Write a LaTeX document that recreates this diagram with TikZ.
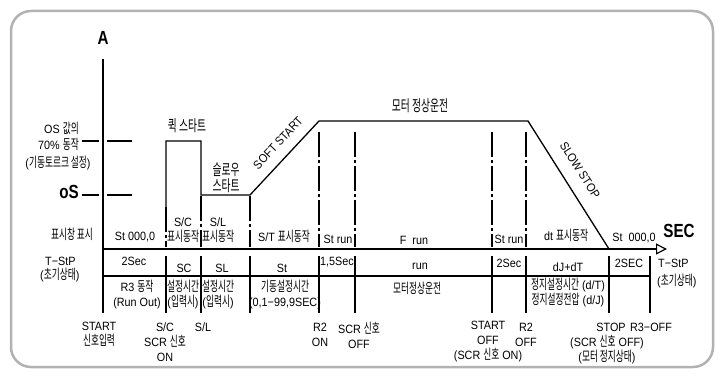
\documentclass[tikz,border=0pt]{standalone}
\usepackage{fontspec}
\setmainfont{Liberation Sans}[FakeStretch=0.9]
\newfontfamily\korfont{Noto Sans CJK KR}[FakeStretch=0.63, Scale=1.15]
\newfontfamily\bigfont{Liberation Sans}[FakeStretch=0.8]
\newcommand\kor[1]{{\korfont #1}}
\usetikzlibrary{arrows.meta}
\begin{document}
\begin{tikzpicture}[x=1pt,y=-1pt,
  txt/.style={inner sep=0pt, align=center, font=\fontsize{12}{15}\selectfont},
  head/.style={inner sep=0pt, align=center, font=\fontsize{13.5}{16}\selectfont},
  big/.style={inner sep=0pt, font=\bigfont\bfseries\fontsize{19}{20}\selectfont},
  ln/.style={line width=1.3pt, black},
  dd/.style={line width=1.3pt, dash pattern=on 25pt off 3pt on 3pt off 3pt},
  frame/.style={line width=2.5pt, gray!60, rounded corners=20pt}]
\useasboundingbox (0,0) rectangle (720,377);
\draw[frame] (11,11) rectangle (713,367);

% axes
\draw[ln] (103,59) -- (103,313);
\draw[ln, -{Triangle[open, length=11pt, width=11pt, line width=1.2pt]}] (103,249) -- (667,249);
\draw[ln] (103,276) -- (650,276);

% level marks
\draw[ln] (82,141) -- (99,141) (107,141) -- (132,141);
\draw[ln] (82,195) -- (99,195) (107,195) -- (132,195);

% waveform
\draw[ln, line join=miter] (166,207) -- (166,141) -- (201,141) -- (201,195) -- (250,195) -- (319,121) -- (528,121) -- (609,249);

% dash-dot guides
\draw[dd] (166,207) -- (166,247);
\draw[dd] (201,196) -- (201,247);
\draw[dd] (250,196) -- (250,247);
\foreach \x in {319,355,492,526} \draw[dd] (\x,132) -- (\x,247);

% lower ticks and junction marks
\foreach \x in {166,201,250,319,355,492,526,609,650} \draw[ln] (\x,256) -- (\x,313);
\foreach \x in {166,201,250,319,355,492,526,609} \fill (\x,276) circle (1.9pt);

% big labels
\node[big] (lA) at (103,38) {A};
\node[big, anchor=east] (loS) at (79,192) {oS};
\node[big] (lSEC) at (679,231) {SEC};

% left labels
\node[txt, anchor=east] (os1) at (79,128) {OS \kor{값의}};
\node[txt, anchor=east] (os2) at (79,144) {70\% \kor{동작}};
\node[txt] (os3) at (58,163) {(\kor{기동토르크 설정})};
\node[txt] (disp) at (72,234) {\kor{표시창 표시}};
\node[txt, anchor=west] (tsl1) at (45,261) {T−StP};
\node[txt, anchor=west] (tsl2) at (40,275) {(\kor{초기상태})};

% upper labels
\node[head] (quick) at (187,126) {\kor{퀵 스타트}};
\node[head] (slow) at (226,178) {\kor{슬로우}\\\kor{스타트}};
\node[head] (normal) at (420,106) {\kor{모터 정상운전}};
\node[txt, rotate=47] (soft) at (278,143) {SOFT START};
\node[txt, rotate=-57.7] (sstop) at (580,170) {SLOW STOP};

% band 1
\node[txt] (b1a) at (135,237) {St 000,0};
\node[txt] (b1b) at (183,230) {S/C\\\kor{표시동작}};
\node[txt] (b1c) at (218,230) {S/L\\\kor{표시동작}};
\node[txt] (b1d) at (284,236) {S/T \kor{표시동작}};
\node[txt] (b1e) at (338,239) {St run};
\node[txt] (b1f) at (414,240) {F\enspace run};
\node[txt] (b1g) at (509,239) {St run};
\node[txt] (b1h) at (566,235) {dt \kor{표시동작}};
\node[txt] (b1i) at (634,238) {St\enspace 000,0};

% band 2
\node[txt] (b2a) at (134,261) {2Sec};
\node[txt] (b2b) at (184,268) {SC};
\node[txt] (b2c) at (222,268) {SL};
\node[txt] (b2d) at (282,268) {St};
\node[txt] (b2e) at (337,262) {1,5Sec};
\node[txt] (b2f) at (420,266) {run};
\node[txt] (b2g) at (509,263) {2Sec};
\node[txt] (b2h) at (568,267) {dJ+dT};
\node[txt] (b2i) at (629,263) {2SEC};
\node[txt, anchor=west] (tsr1) at (658,263) {T−StP};
\node[txt, anchor=west] (tsr2) at (657,281) {(\kor{초기상태})};

% band 3
\node[txt] (b3a) at (137,295) {R3 \kor{동작}\\(Run Out)};
\node[txt] (b3b) at (183,295) {\kor{설정시간}\\(\kor{입력시})};
\node[txt] (b3c) at (218,295) {\kor{설정시간}\\(\kor{입력시})};
\node[txt] (b3d) at (285,295) {\kor{기동설정시간}\\(0,1−99,9SEC)};
\node[txt] (b3e) at (417,288) {\kor{모터정상운전}};
\node[txt] (b3f) at (568,293) {\kor{정지설정시간} (d/T)\\\kor{정지설정전압} (d/J)};

% bottom labels
\node[txt] (e1) at (99,334) {START\\\kor{신호입력}};
\node[txt] (e2) at (165,342) {S/C\\SCR \kor{신호}\\ON};
\node[txt] (e3) at (203,327) {S/L};
\node[txt] (e4) at (320,335) {R2\\ON};
\node[txt] (e5) at (359,335) {SCR \kor{신호}\\OFF};
\node[txt] (e6) at (488,342) {START\\OFF\\(SCR \kor{신호} ON)};
\node[txt] (e7) at (526,335) {R2\\OFF};
\node[txt] (e8) at (611,327) {STOP};
\node[txt] (e9) at (651,327) {R3−OFF};
\node[txt] (e10) at (607,350) {(SCR \kor{신호} OFF)\\(\kor{모터 정지상태})};
\end{tikzpicture}
\end{document}
